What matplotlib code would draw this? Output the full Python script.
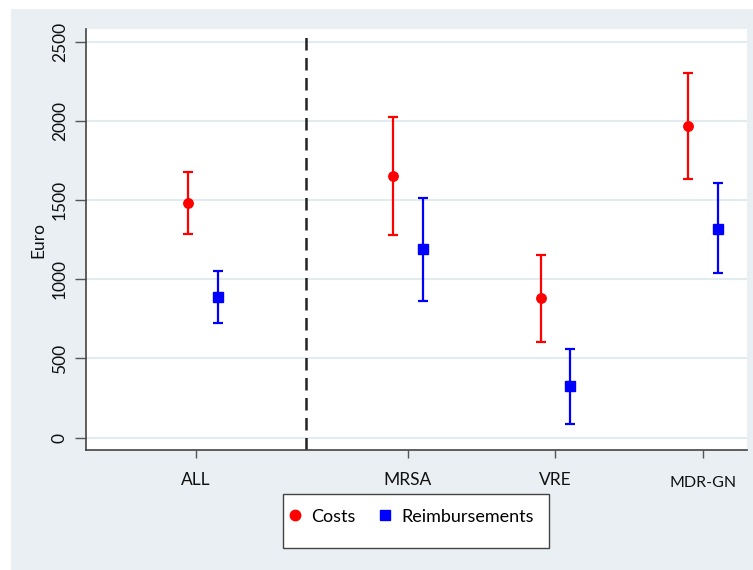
import matplotlib
matplotlib.use("Agg")
import matplotlib.pyplot as plt
from matplotlib.lines import Line2D
from matplotlib.patches import Rectangle

plt.rcParams['font.family'] = ['Lato', 'DejaVu Sans']

categories = ["ALL", "MRSA", "VRE", "MDR-GN"]
costs = [1483, 1654, 880, 1966]
costs_low = [1286, 1280, 604, 1635]
costs_high = [1675, 2023, 1151, 2300]
reimb = [890, 1189, 328, 1319]
reimb_low = [722, 861, 88, 1038]
reimb_high = [1054, 1515, 562, 1606]
yticks = [0, 500, 1000, 1500, 2000, 2500]

BG = "#e9eff2"
GRID = "#e2ebf0"

fig = plt.figure(figsize=(7.53, 5.70), dpi=100)
fig.patches.append(Rectangle((11/753, 0), 1 - 11/753, (570 - 9)/570,
                             transform=fig.transFigure, facecolor=BG,
                             edgecolor="none", zorder=-10))

ax = fig.add_axes([86/753, (570-450)/570, (746.7-86)/753, (450-29)/570])
ax.set_facecolor("white")

centers = [1.05, 2.44, 3.44, 4.44]
tickpos = [1.0, 2.44, 3.44, 4.44]
off = 0.1

xc = [c - off for c in centers]
xr = [c + off for c in centers]

ax.errorbar(xc, costs,
            yerr=[[c - l for c, l in zip(costs, costs_low)],
                  [h - c for c, h in zip(costs, costs_high)]],
            fmt='o', color='#ff0000', ms=6.8, elinewidth=1.6, capsize=3.6,
            capthick=1.6, zorder=3)
ax.errorbar(xr, reimb,
            yerr=[[c - l for c, l in zip(reimb, reimb_low)],
                  [h - c for c, h in zip(reimb, reimb_high)]],
            fmt='s', color='#0000ff', ms=7.0, elinewidth=1.6, capsize=3.6,
            capthick=1.6, zorder=3)

ax.axvline(1.748, ymax=0.993, color='#222222', lw=1.8, ls=(0, (5, 3)), zorder=2)

ax.set_xlim(0.2576, 4.737)
ax.set_ylim(-78, 2580)
ax.set_yticks(yticks)
ax.set_yticklabels([str(t) for t in yticks], rotation=90, va='center',
                   fontsize=12.5, color='#111111')
ax.set_xticks(tickpos)
ax.set_xticklabels(categories, fontsize=12.5, color='#111111')
lbls = ax.get_xticklabels()
lbls[-1].set_fontsize(11.5)
lbls[-1].set_y(-0.01)
ax.tick_params(axis='x', length=6, width=1, color='#555555', pad=10)
ax.tick_params(axis='y', length=8, width=1, color='#555555', pad=5)
ax.grid(axis='y', color=GRID, lw=1.5, zorder=0)
ax.set_axisbelow(True)

for s in ['top', 'right']:
    ax.spines[s].set_visible(False)
for s in ['left', 'bottom']:
    ax.spines[s].set_color('#444444')
    ax.spines[s].set_linewidth(1.2)

ax.set_ylabel("Euro", fontsize=12.5, color='#111111', labelpad=4)

# legend box
fig.patches.append(Rectangle((283.3/753, (570-547.7)/570), 265.4/753, 53.7/570,
                             transform=fig.transFigure, facecolor='white',
                             edgecolor='#444444', lw=1.0, zorder=1))
handles = [Line2D([], [], marker='o', ls='none', color='#ff0000', ms=7.5),
           Line2D([], [], marker='s', ls='none', color='#0000ff', ms=7.5)]
fig.legend(handles, ["Costs", "Reimbursements"], loc='center left',
           bbox_to_anchor=(288/753, (570-516.7)/570), ncol=2, frameon=False,
           fontsize=13, handlelength=0.8, handletextpad=0.5,
           columnspacing=1.2, borderpad=0, borderaxespad=0)

fig.savefig("out.png", dpi=100, facecolor='white')
